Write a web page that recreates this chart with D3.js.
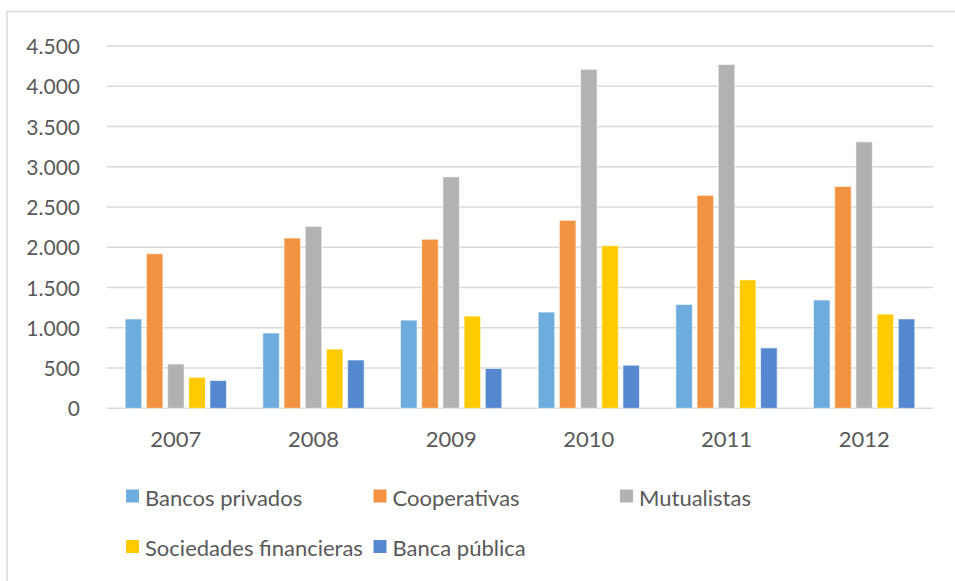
<!DOCTYPE html>
<html>
<head>
<meta charset="utf-8">
<script src="https://cdn.jsdelivr.net/npm/d3@7"></script>
<style>
  html, body { margin: 0; padding: 0; background: #fff; }
  svg { display: block; }
  text { font-family: Lato, "Liberation Sans", sans-serif; fill: #595959; }
</style>
</head>
<body>
<svg id="chart" width="955" height="581"></svg>
<script>
// Years shown on the category axis
const years = ["2007", "2008", "2009", "2010", "2011", "2012"];

// Institution types (series) and their colours
const seriesNames = ["Bancos privados", "Cooperativas", "Mutualistas", "Sociedades financieras", "Banca pública"];
const seriesColors = ["#6DACDC", "#F29341", "#B2B2B2", "#FFCA00", "#5688D0"];

// Values per series, one per year
const bancosPrivados = [1110, 935, 1095, 1195, 1290, 1345];
const cooperativas = [1920, 2115, 2100, 2335, 2645, 2755];
const mutualistas = [550, 2260, 2875, 4210, 4270, 3310];
const sociedadesFinancieras = [385, 735, 1145, 2020, 1595, 1170];
const bancaPublica = [345, 600, 495, 535, 750, 1110];

// Y-axis tick values
const yTicks = [0, 500, 1000, 1500, 2000, 2500, 3000, 3500, 4000, 4500];

const seriesValues = [bancosPrivados, cooperativas, mutualistas, sociedadesFinancieras, bancaPublica];

const svg = d3.select("#chart");

// Outer frame of the chart area
svg.append("rect")
  .attr("x", 7).attr("y", 11.5)
  .attr("width", 1000).attr("height", 620)
  .attr("fill", "none")
  .attr("stroke", "#D9D9D9")
  .attr("stroke-width", 1.5);

const plot = { left: 107, right: 933, top: 46, bottom: 408.3 };

const y = d3.scaleLinear().domain([0, 4500]).range([plot.bottom, plot.top]);
const x0 = d3.scaleBand().domain(years).range([plot.left, plot.right]).padding(0);
const groupPad = 15.85;
const x1 = d3.scaleBand().domain(seriesNames)
  .range([groupPad, x0.bandwidth() - groupPad])
  .paddingInner(0.22).paddingOuter(0.11);

const fmt = d3.formatLocale({ decimal: ",", thousands: ".", grouping: [3], currency: ["", ""] }).format(",d");

// Horizontal gridlines
svg.append("g")
  .selectAll("line")
  .data(yTicks)
  .join("line")
  .attr("x1", plot.left).attr("x2", plot.right)
  .attr("y1", d => y(d)).attr("y2", d => y(d))
  .attr("stroke", "#D9D9D9")
  .attr("stroke-width", 1.5);

// Y-axis labels
const yAxis = d3.axisLeft(y).tickValues(yTicks).tickFormat(fmt).tickSize(0).tickPadding(0);
const gy = svg.append("g").attr("transform", "translate(80,0)").call(yAxis);
gy.select(".domain").remove();
gy.selectAll("text")
  .attr("font-size", 21)
  .attr("font-family", "Lato, 'Liberation Sans', sans-serif")
  .attr("fill", "#595959")
  .attr("dy", "0.36em");

// X-axis labels
const xAxis = d3.axisBottom(x0).tickSize(0).tickPadding(0);
const gx = svg.append("g").attr("transform", `translate(0,${plot.bottom})`).call(xAxis);
gx.select(".domain").remove();
gx.selectAll("text")
  .attr("font-size", 22)
  .attr("font-family", "Lato, 'Liberation Sans', sans-serif")
  .attr("fill", "#595959")
  .attr("dy", null)
  .attr("y", 39);

// Bars
const groups = svg.append("g")
  .selectAll("g")
  .data(years)
  .join("g")
  .attr("transform", d => `translate(${x0(d)},0)`);

groups.selectAll("rect")
  .data((yr, i) => seriesNames.map((s, k) => ({ s, k, v: seriesValues[k][i] })))
  .join("rect")
  .attr("x", d => x1(d.s))
  .attr("width", x1.bandwidth())
  .attr("y", d => y(d.v))
  .attr("height", d => y(0) - y(d.v))
  .attr("fill", d => seriesColors[d.k])
  .attr("stroke", "#ffffff")
  .attr("stroke-opacity", 0.6)
  .attr("stroke-width", 1);

// Legend (two rows)
const legendPos = [
  { x: 126, y: 489.5 },
  { x: 373.5, y: 489.5 },
  { x: 620, y: 489.5 },
  { x: 126, y: 540 },
  { x: 373.5, y: 540 }
];
const legend = svg.append("g")
  .selectAll("g")
  .data(seriesNames)
  .join("g")
  .attr("transform", (d, i) => `translate(${legendPos[i].x},${legendPos[i].y})`);

legend.append("rect")
  .attr("width", 13).attr("height", 13)
  .attr("fill", (d, i) => seriesColors[i]);

legend.append("text")
  .attr("x", 19)
  .attr("y", 16)
  .attr("font-size", 22)
  .text(d => d);
</script>
</body>
</html>
